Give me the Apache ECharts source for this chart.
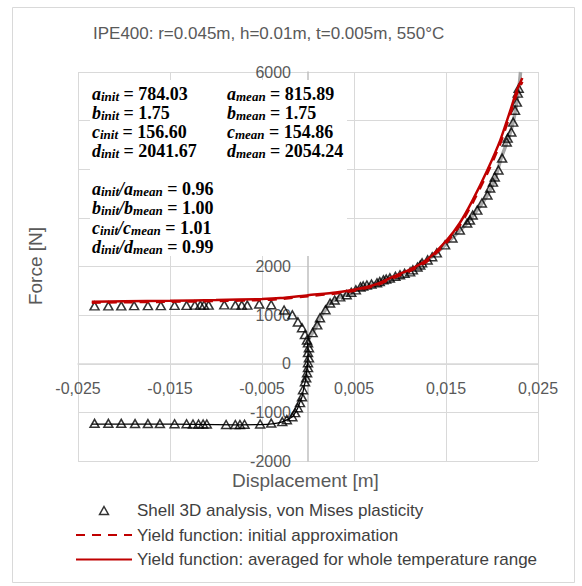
<!DOCTYPE html>
<html>
<head>
<meta charset="utf-8">
<title>IPE400 yield function</title>
<script src="https://cdn.jsdelivr.net/npm/echarts@6/dist/echarts.min.js"></script>
<style>
    html, body { margin: 0; padding: 0; background: #fff; }
    #chart { width: 582px; height: 586px; }
</style>
</head>
<body>
<div id="chart"></div>
<script>
// === 1. Data ===
// Shell 3D analysis points, split by branch
const upperFlatX = [-0.0232, -0.0217, -0.0203, -0.0189, -0.0174, -0.0160, -0.0145, -0.0132, -0.0123, -0.0117, -0.0113, -0.0108, -0.0091, -0.0079, -0.0072, -0.0066, -0.0053, -0.0040];
const upperFlatF = [1190, 1190, 1190, 1195, 1195, 1195, 1200, 1200, 1205, 1205, 1205, 1205, 1210, 1205, 1205, 1205, 1230, 1215];
const leftArmX = [-0.0026, -0.0017, -0.0011, -0.00065, -0.00033, -0.00011];
const leftArmF = [1105, 1005, 860, 740, 600, 490];
const stemX = [0.0000, 0.0001, 0.0000, 0.0001, 0.0000, 0.0000, -0.0001, -0.0002];
const stemF = [430, 330, 230, 120, 20, -80, -185, -290];
const lowerBendX = [-0.00033, -0.00054, -0.00065, -0.00087, -0.0011, -0.0014, -0.0017, -0.0023, -0.0028];
const lowerBendF = [-370, -535, -680, -800, -905, -1005, -1090, -1150, -1190];
const lowerFlatX = [-0.0232, -0.0217, -0.0203, -0.0188, -0.0174, -0.0161, -0.0145, -0.0132, -0.0125, -0.0119, -0.0114, -0.0110, -0.0089, -0.0079, -0.0074, -0.0069, -0.0052, -0.0040];
const lowerFlatF = [-1225, -1225, -1225, -1230, -1230, -1230, -1235, -1235, -1240, -1240, -1240, -1240, -1250, -1250, -1250, -1245, -1240, -1220];
const rightArmX = [0.0005, 0.0010, 0.0013, 0.0019, 0.0024, 0.0029, 0.0035, 0.0042];
const rightArmF = [640, 800, 945, 1110, 1250, 1310, 1375, 1420];
const upperRightX = [0.0047, 0.0052, 0.0057, 0.0060, 0.0064, 0.0069, 0.0075, 0.0078, 0.0082, 0.0085, 0.0089, 0.0095, 0.0100, 0.0105, 0.0111, 0.0114, 0.0119, 0.0122, 0.0124, 0.0130, 0.0135, 0.0140, 0.0149, 0.0157, 0.0165, 0.0173, 0.0176, 0.0179, 0.0184, 0.0189, 0.0195, 0.0198, 0.0201, 0.0203, 0.0207, 0.0211, 0.0216, 0.0217, 0.0221, 0.0223, 0.0225, 0.0227, 0.0228, 0.0229];
const upperRightF = [1470, 1520, 1580, 1600, 1620, 1640, 1665, 1690, 1725, 1740, 1765, 1800, 1830, 1860, 1890, 1930, 1990, 2030, 2075, 2135, 2200, 2280, 2445, 2585, 2750, 2895, 2955, 3060, 3160, 3305, 3470, 3615, 3735, 3840, 3985, 4230, 4560, 4640, 4765, 4970, 5215, 5380, 5565, 5665];

// Yield function curves
const meanX = [-0.0235, -0.020, -0.015, -0.010, -0.005, -0.003, 0, 0.003, 0.005, 0.0075, 0.0092, 0.0110, 0.0129, 0.0151, 0.0165, 0.0179, 0.0195, 0.0209, 0.0220, 0.0227, 0.0233];
const meanF = [1275, 1285, 1295, 1310, 1330, 1350, 1410, 1465, 1520, 1640, 1785, 1930, 2135, 2545, 2895, 3365, 3985, 4600, 5215, 5625, 5875];
const initX = meanX;
const initF = [1255, 1265, 1275, 1290, 1310, 1330, 1390, 1445, 1500, 1615, 1760, 1900, 2100, 2500, 2845, 3310, 3920, 4530, 5140, 5550, 5800];

// Unlabelled helper lines behind the points
const grayX = [-0.0001, 0.0005, 0.0010, 0.0013, 0.0019, 0.0024, 0.0035, 0.0045, 0.0057, 0.0075, 0.0090, 0.0100, 0.0118, 0.0130, 0.0140, 0.0157, 0.0173, 0.0184, 0.0195, 0.0203, 0.0210, 0.0218, 0.0223, 0.0227, 0.0230, 0.0231];
const grayF = [460, 640, 800, 945, 1110, 1250, 1375, 1440, 1570, 1665, 1770, 1830, 1990, 2135, 2280, 2590, 2895, 3160, 3470, 3780, 4230, 4640, 4970, 5380, 5800, 6000];
const blackX = [-0.0235, -0.018, -0.012, -0.008, -0.0052, -0.0039, -0.0028, -0.0023, -0.0017, -0.0014, -0.0011, -0.0009, -0.00065, -0.0005, -0.0003, -0.0002, -0.0001, 0, 0, -0.0001];
const blackF = [-1240, -1240, -1245, -1255, -1250, -1235, -1195, -1155, -1090, -1010, -905, -800, -680, -535, -370, -250, -100, 100, 300, 460];

// Axis ticks
const xMin = -0.025, xMax = 0.025, xStep = 0.01;
const yMin = -2000, yMax = 6000, yStep = 1000;
// y tick labels that sit under the annotation box in the reference
const yHiddenLabels = [3000, 4000, 5000];

// Annotation box values
const paramNames = ['a', 'b', 'c', 'd'];
const initVals = ['784.03', '1.75', '156.60', '2041.67'];
const meanVals = ['815.89', '1.75', '154.86', '2054.24'];
const ratioVals = ['0.96', '1.00', '1.01', '0.99'];

const shellName = 'Shell 3D analysis, von Mises plasticity';
const initName = 'Yield function: initial approximation';
const meanName = 'Yield function: averaged for whole temperature range';

// === 2. Helpers ===
const pairs = (xs, ys) => xs.map((x, i) => [x, ys[i]]);
const SANS = '"Liberation Sans", Arial, sans-serif';
const SERIF = '"Liberation Serif", "Times New Roman", serif';

// plot box in pixels, so the axes can be pushed onto x = 0 / y = 0
const GRID = { left: 78, right: 44, top: 72, bottom: 125 };
const plotW = 582 - GRID.left - GRID.right;
const plotH = 586 - GRID.top - GRID.bottom;
const yAxisShift = plotW * (0 - xMin) / (xMax - xMin);
const xAxisShift = plotH * (0 - yMin) / (yMax - yMin);

const richStyles = {
    v: { fontFamily: SERIF, fontSize: 18, fontStyle: 'italic', fontWeight: 'bold', lineHeight: 18, verticalAlign: 'bottom', color: '#000' },
    s: { fontFamily: SERIF, fontSize: 13, fontStyle: 'italic', fontWeight: 'bold', lineHeight: 4, verticalAlign: 'bottom', color: '#000' },
    n: { fontFamily: SERIF, fontSize: 18, fontWeight: 'bold', lineHeight: 18, verticalAlign: 'bottom', color: '#000' }
};

function noteText(left, top, text) {
    return {
        type: 'text', left: left, top: top, z: 11,
        style: { text: text, rich: richStyles }
    };
}

function buildNotes() {
    const items = [];
    paramNames.forEach((p, i) => {
        items.push(noteText(92, 85 + i * 19, `{v|${p}}{s|init}{n| = ${initVals[i]}}`));
        items.push(noteText(227, 85 + i * 19, `{v|${p}}{s|mean}{n| = ${meanVals[i]}}`));
        items.push(noteText(92, 180 + i * 19.3, `{v|${p}}{s|init}{v|/${p}}{s|mean}{n| = ${ratioVals[i]}}`));
    });
    return items;
}

// === 3. Render ===
function render() {
    const dom = document.getElementById('chart');
    if (typeof echarts === 'undefined') {
        console.error('ECharts not loaded');
        return;
    }
    const chart = echarts.init(dom, null, { renderer: 'svg' });

    const option = {
        animation: false,
        backgroundColor: '#fff',
        grid: { left: GRID.left, right: GRID.right, top: GRID.top, bottom: GRID.bottom, outerBoundsMode: 'none' },
        legend: {
            orient: 'vertical',
            left: 70,
            top: 497,
            itemWidth: 56,
            itemHeight: 8,
            itemGap: 7.5,
            selectedMode: false,
            textStyle: { fontFamily: SANS, fontSize: 17, lineHeight: 17, color: '#404040' },
            data: [
                { name: shellName, icon: 'path://M5,0L10,9L0,9Z', itemStyle: { color: 'transparent', borderColor: '#000', borderWidth: 1.5 } },
                { name: initName, itemStyle: { color: 'transparent', borderWidth: 0 } },
                { name: meanName, itemStyle: { color: 'transparent', borderWidth: 0 } }
            ]
        },
        xAxis: {
            type: 'value',
            min: xMin, max: xMax, interval: xStep,
            position: 'bottom',
            offset: -xAxisShift,
            axisLine: { onZero: false, lineStyle: { color: '#d9d9d9', width: 1.5 } },
            axisTick: { show: false },
            axisLabel: {
                margin: 17,
                fontFamily: SANS, fontSize: 16, color: '#595959',
                formatter: v => v.toFixed(3).replace('.', ',')
            },
            splitLine: { show: true, lineStyle: { color: '#d9d9d9', width: 1 } }
        },
        yAxis: {
            type: 'value',
            min: yMin, max: yMax, interval: yStep,
            position: 'left',
            offset: -yAxisShift,
            axisLine: { show: true, onZero: false, lineStyle: { color: '#bfbfbf', width: 1.5 } },
            axisTick: { show: false },
            axisLabel: {
                margin: 17,
                fontFamily: SANS, fontSize: 16, color: '#595959',
                formatter: v => (yHiddenLabels.indexOf(v) >= 0 ? '' : String(v))
            },
            splitLine: { show: true, lineStyle: { color: '#d9d9d9', width: 1 } }
        },
        graphic: [
            // chart frame
            { type: 'rect', left: 10, top: 5, z: 0, silent: true,
              shape: { width: 562, height: 575 },
              style: { fill: 'none', stroke: '#d9d9d9', lineWidth: 1 } },
            { type: 'text', left: 93, top: 25, z: 11,
              style: { text: 'IPE400: r=0.045m, h=0.01m, t=0.005m, 550°C', fontFamily: SANS, fontSize: 17, fill: '#595959' } },
            { type: 'text', left: 232, top: 471, z: 11,
              style: { text: 'Displacement [m]', fontFamily: SANS, fontSize: 19, fill: '#595959' } },
            { type: 'text', x: 26, y: 266, rotation: Math.PI / 2, z: 11,
              style: { text: 'Force [N]', fontFamily: SANS, fontSize: 19, fill: '#595959', align: 'center', verticalAlign: 'top' } },
            // white annotation box over the upper-left part of the plot
            { type: 'rect', left: 90, top: 80, z: 10, silent: true,
              shape: { width: 257, height: 176 },
              style: { fill: '#fff' } }
        ].concat(buildNotes()),
        series: [
            {
                name: 'loading path', type: 'line', data: pairs(grayX, grayF),
                symbol: 'none', smooth: 0.2, silent: true, z: 1,
                lineStyle: { color: '#a6a6a6', width: 3.5 }
            },
            {
                name: 'unloading path', type: 'line', data: pairs(blackX, blackF),
                symbol: 'none', smooth: 0.2, silent: true, z: 1,
                lineStyle: { color: '#000', width: 1.25 }
            },
            {
                name: shellName, type: 'scatter', z: 3,
                data: pairs(upperFlatX, upperFlatF)
                    .concat(pairs(leftArmX, leftArmF))
                    .concat(pairs(stemX, stemF))
                    .concat(pairs(lowerBendX, lowerBendF))
                    .concat(pairs(lowerFlatX, lowerFlatF))
                    .concat(pairs(rightArmX, rightArmF))
                    .concat(pairs(upperRightX, upperRightF)),
                symbol: 'triangle', symbolSize: [9, 8],
                itemStyle: { color: 'transparent', borderColor: '#000', borderWidth: 1.5 }
            },
            {
                name: initName, type: 'line', data: pairs(initX, initF),
                symbol: 'none', smooth: 0.2, z: 4,
                lineStyle: { color: '#c00000', width: 2.5, type: [9, 7] }
            },
            {
                name: meanName, type: 'line', data: pairs(meanX, meanF),
                symbol: 'none', smooth: 0.2, z: 5,
                lineStyle: { color: '#c00000', width: 2.5 }
            }
        ]
    };
    chart.setOption(option);
}

render();
</script>
</body>
</html>
